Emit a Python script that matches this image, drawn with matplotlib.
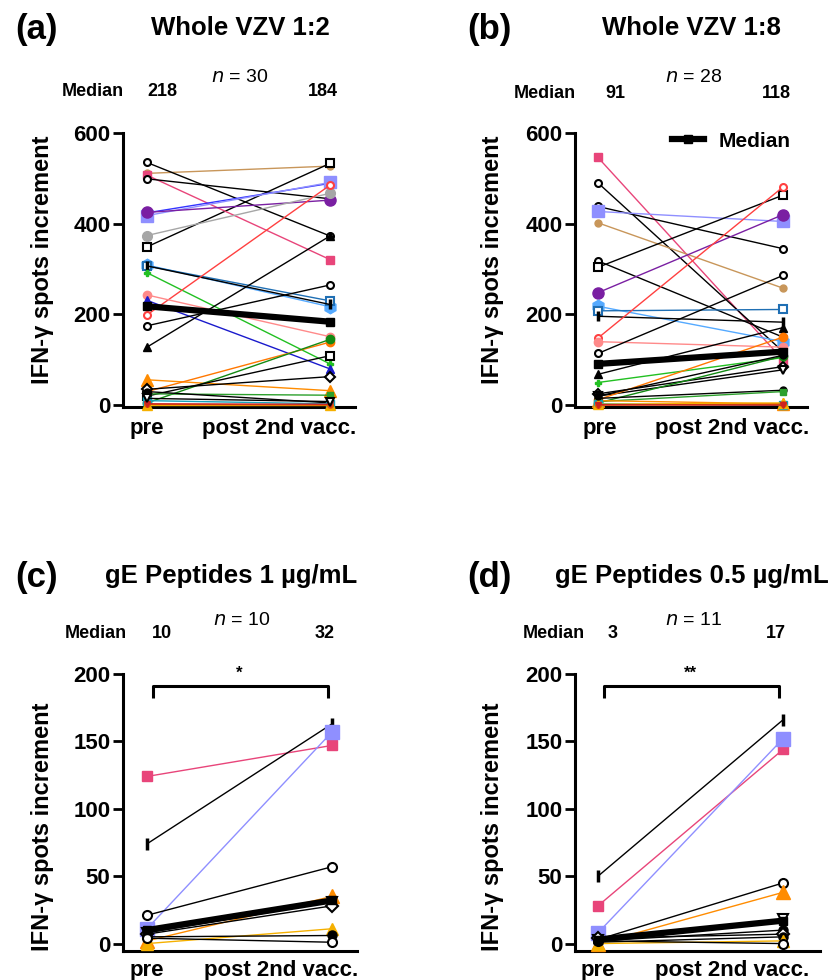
import matplotlib.pyplot as plt
from matplotlib.lines import Line2D

plt.rcParams['font.family'] = ['Liberation Sans', 'DejaVu Sans']

W, H = 838, 980

# marker styles: colour, marker, open, size
STYLES = {
    'tan': ('#c8965a', 'o', False, 5),
    'blk_sq_open': ('black', 's', True, 5.5),
    'crimson': ('#e8457a', 's', False, 6),
    'blk_circ_open': ('black', 'o', True, 5),
    'blue': ('#3333ff', 'o', False, 5),
    'peri': ('#8f8fff', 's', False, 8),
    'purple': ('#7a1fa2', 'o', False, 8),
    'gray': ('#a6a6a6', 'o', False, 7),
    'ltblue': ('#55aaff', 'h', False, 9),
    'steel': ('#1f6fb4', 's', True, 6),
    'blk_bar': ('black', '|', False, 7),
    'green': ('#22c022', 'P', False, 5),
    'red': ('#ff4040', 'o', True, 5),
    'salmon': ('#ff8a8a', 'o', False, 6),
    'dkblue': ('#1a1acc', '^', False, 6),
    'blk_tri': ('black', '^', False, 6),
    'orange_tri': ('#ff8c00', '^', False, 8),
    'orange': ('#ff7700', 'o', False, 6),
    'dkgreen': ('#138a13', 'o', False, 6),
    'blk_diamond': ('black', 'D', True, 5),
    'green_sq': ('#2ca02c', 's', False, 5),
    'blk_circ': ('black', 'o', False, 5),
    'teal': ('#17a2b8', 's', False, 6),
    'gold_tri': ('#f5b000', '^', False, 7),
    'dkorange': ('#e06000', 'o', False, 4),
    'darkred_v': ('#cc2222', 'v', False, 5),
    'blk_v': ('black', 'v', True, 6),
}

# (a) Whole VZV 1:2
a_pre = [511, 349, 507, 535, 499, 424, 418, 425, 374, 309, 307, 307, 292, 199, 243,
         231, 175, 128, 56, 30, 5, 20, 35, 25, 30, 10, 0, 2, 3, 15]
a_post = [527, 533, 321, 373, 455, 489, 491, 452, 467, 217, 230, 222, 91, 485, 151,
          80, 265, 373, 32, 139, 145, 109, 63, 22, 5, 3, 0, 0, 2, 8]
a_style = ['tan', 'blk_sq_open', 'crimson', 'blk_circ_open', 'blk_circ_open', 'blue', 'peri',
           'purple', 'gray', 'ltblue', 'steel', 'blk_bar', 'green', 'red', 'salmon',
           'dkblue', 'blk_circ_open', 'blk_tri', 'orange_tri', 'orange', 'dkgreen',
           'blk_sq_open', 'blk_diamond', 'green_sq', 'blk_circ', 'teal', 'gold_tri',
           'dkorange', 'darkred_v', 'blk_v']
a_median = [218, 184]

# (b) Whole VZV 1:8
b_pre = [546, 490, 438, 427, 402, 318, 304, 248, 218, 208, 196, 148, 140, 114, 68,
         50, 25, 20, 12, 5, 15, 8, 10, 3, 2, 0, 20, 1]
b_post = [100, 118, 345, 405, 258, 150, 463, 420, 140, 211, 183, 481, 128, 286, 171,
          105, 85, 78, 150, 108, 33, 30, 3, 0, 5, 2, 110, 0]
b_style = ['crimson', 'blk_circ_open', 'blk_circ_open', 'peri', 'tan', 'blk_circ_open',
           'blk_sq_open', 'purple', 'ltblue', 'steel', 'blk_bar', 'red', 'salmon',
           'blk_circ_open', 'blk_tri', 'green', 'blk_diamond', 'blk_v', 'orange',
           'dkgreen', 'blk_circ', 'green_sq', 'orange_tri', 'teal', 'gold_tri',
           'dkorange', 'blk_circ', 'darkred_v']
b_median = [91, 118]

# (c) gE Peptides 1 ug/mL
c_pre = [124, 74, 11, 21, 2, 8, 7, 0, 5, 4]
c_post = [147, 163, 157, 57, 35, 31, 28, 11, 6, 1]
c_style = ['crimson', 'blk_bar', 'peri', 'blk_circ_open', 'orange_tri', 'blk_v',
           'blk_diamond', 'gold_tri', 'blk_circ', 'blk_circ_open']
c_median = [10, 32]

# (d) gE Peptides 0.5 ug/mL
d_pre = [50, 28, 8, 3, 0, 3, 2, 4, 1, 0, 2]
d_post = [166, 144, 152, 45, 38, 18, 10, 7, 5, 2, 0]
d_style = ['blk_bar', 'crimson', 'peri', 'blk_circ_open', 'orange_tri', 'blk_v',
           'blk_circ', 'blk_diamond', 'blk_circ', 'gold_tri', 'blk_circ_open']
d_median = [3, 17]

x_labels = ['pre', 'post 2nd vacc.']
y_label = 'IFN-\u03b3 spots increment'


def fx(x):
    return x / W


def fy(y):
    return 1 - y / H


def make_panel(fig, box, pre_x, post_x, ylim, yticks, pre, post, styles, median, scale=1.0):
    x0, y_top, x1, y_bot = box
    ax = fig.add_axes([fx(x0), fy(y_bot), (x1 - x0) / W, (y_bot - y_top) / H])
    unit = post_x - pre_x
    ax.set_xlim(-(pre_x - x0) / unit, 1 + (x1 - post_x) / unit)
    ax.set_ylim(*ylim)
    for p0, p1, key in zip(pre, post, styles):
        color, m, open_, ms = STYLES[key]
        ax.plot([0, 1], [p0, p1], color=color, lw=1, marker=m, ms=ms * scale,
                mfc='white' if open_ else color, mec=color,
                mew=2.5 if m == '|' else (1.5 if open_ else 1),
                clip_on=False, zorder=3)
    ax.plot([0, 1], median, color='black', lw=4.5, marker='s', ms=6,
            solid_capstyle='butt', zorder=5, clip_on=False)
    for s in ['top', 'right']:
        ax.spines[s].set_visible(False)
    for s in ['left', 'bottom']:
        ax.spines[s].set_linewidth(2.2)
    ax.spines['left'].set_bounds(ylim[0], yticks[-1])
    ax.set_yticks(yticks)
    ax.set_yticklabels([str(t) for t in yticks], fontsize=16, fontweight='bold')
    ax.tick_params(axis='y', length=7, width=2, pad=2)
    ax.set_xticks([])
    ax.patch.set_visible(False)
    return ax


fig = plt.figure(figsize=(W / 100, H / 100), dpi=100)

ax_a = make_panel(fig, (123, 133, 355, 407), 147, 330, (-4, 600), [0, 200, 400, 600],
                  a_pre, a_post, a_style, a_median)
ax_b = make_panel(fig, (575, 133, 807, 407), 598, 783, (-4, 600), [0, 200, 400, 600],
                  b_pre, b_post, b_style, b_median)
ax_c = make_panel(fig, (123, 674, 357, 951), 147, 332, (-5.5, 200), [0, 50, 100, 150, 200],
                  c_pre, c_post, c_style, c_median, scale=1.3)
ax_d = make_panel(fig, (575, 674, 820, 951), 598, 783, (-5.5, 200), [0, 50, 100, 150, 200],
                  d_pre, d_post, d_style, d_median, scale=1.3)

# significance brackets
for ax, star in [(ax_c, '*'), (ax_d, '**')]:
    ax.plot([0.03, 0.03, 0.98, 0.98], [182, 191, 191, 182], color='black', lw=2.2,
            clip_on=False, solid_capstyle='butt')
    ax.text(0.5, 195, star, ha='center', va='bottom', fontsize=12, fontweight='bold')

# legend in (b)
handle = Line2D([0], [0], color='black', lw=4.5, marker='s', ms=6)
fig.legend([handle], ['Median'], loc='center left', bbox_to_anchor=(fx(662), fy(141)),
           frameon=False, handlelength=1.5, handletextpad=0.7, borderpad=0,
           prop={'size': 15, 'weight': 'bold'})

panels = [
    ('(a)', 'Whole VZV 1:2', 15, 240, 30, 92, 62, 147, 330, a_median, 'n = 30', 240, 77, 260, 42, 428),
    ('(b)', 'Whole VZV 1:8', 467, 691, 30, 94, 514, 600, 783, b_median, 'n = 28', 694, 77, 260, 492, 428),
    ('(c)', 'gE Peptides 1 \u00b5g/mL', 15, 231, 578, 634, 65, 147, 332, c_median, 'n = 10', 242, 620, 827, 42, 970),
    ('(d)', 'gE Peptides 0.5 \u00b5g/mL', 467, 692, 578, 634, 523, 598, 783, d_median, 'n = 11', 694, 620, 827, 492, 970),
]
for (lab, title, lab_x, title_x, top_y, med_y, med_x, pre_x, post_x, med,
     ntext, n_x, n_y, ylab_y, ylab_x, xl_y) in panels:
    fig.text(fx(lab_x), fy(top_y), lab, fontsize=25, fontweight='bold', ha='left', va='center')
    fig.text(fx(title_x), fy(top_y - 2), title, fontsize=18.5, fontweight='bold',
             ha='center', va='center')
    fig.text(fx(med_x), fy(med_y), 'Median', fontsize=13, fontweight='bold', ha='left', va='center')
    fig.text(fx(pre_x + 15), fy(med_y), str(med[0]), fontsize=13, fontweight='bold',
             ha='center', va='center')
    fig.text(fx(post_x - 7), fy(med_y), str(med[1]), fontsize=13, fontweight='bold',
             ha='center', va='center')
    fig.text(fx(n_x), fy(n_y), r'$\mathit{n}$ = ' + ntext.split('= ')[1], fontsize=14,
             ha='center', va='center')
    fig.text(fx(ylab_x), fy(ylab_y), y_label, fontsize=17, fontweight='bold', rotation=90,
             ha='center', va='center')
    fig.text(fx(pre_x), fy(xl_y), x_labels[0], fontsize=16, fontweight='bold',
             ha='center', va='center')
    fig.text(fx(post_x - 51), fy(xl_y), x_labels[1], fontsize=16, fontweight='bold',
             ha='center', va='center')

fig.savefig('out.png', dpi=100)
